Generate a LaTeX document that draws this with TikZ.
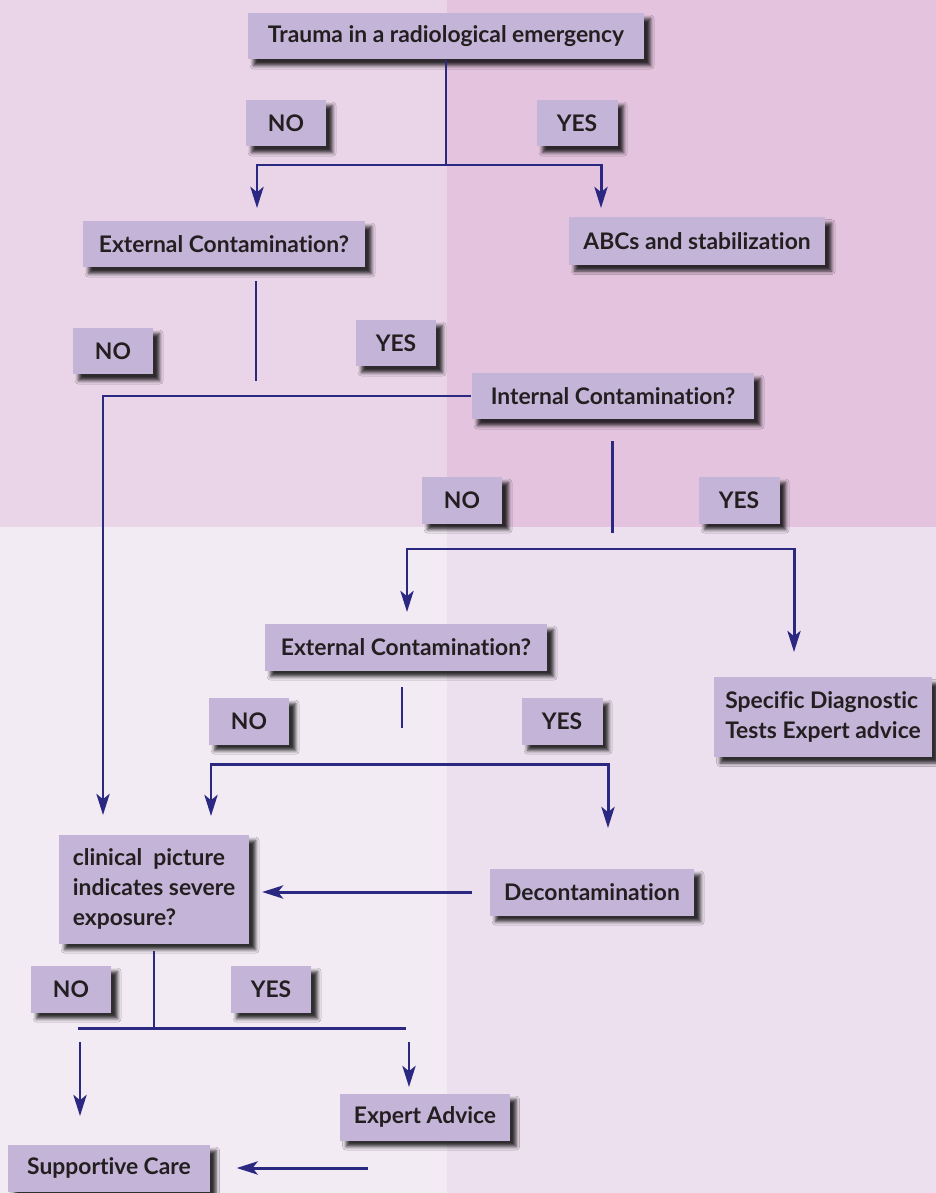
\documentclass[tikz,border=0pt]{standalone}
\usepackage{fontspec}
\setmainfont[Ligatures=NoCommon]{Lato}
\usetikzlibrary{arrows.meta,shadows.blur}

\definecolor{bgtl}{RGB}{234,213,232}
\definecolor{bgtr}{RGB}{227,195,221}
\definecolor{bgbl}{RGB}{243,235,244}
\definecolor{bgbr}{RGB}{236,223,238}
\definecolor{boxfill}{RGB}{196,181,216}
\definecolor{navy}{RGB}{42,40,128}
\definecolor{ink}{RGB}{35,31,32}

\tikzset{
	box/.style={fill=boxfill, text=ink, inner sep=0pt,
		minimum height=0.94cm,
		font=\bfseries\fontsize{13}{17}\selectfont,
		blur shadow={shadow xshift=3.5pt, shadow yshift=-3.5pt,
			shadow blur radius=2pt, shadow opacity=80}},
	answer/.style={box, minimum width=1.62cm},
	link/.style={line width=1.7pt, draw=navy},
	arr/.style={link, -{Stealth[length=12pt, width=7.5pt, inset=3pt]}},
}

\begin{document}
\begin{tikzpicture}[x=0.02cm, y=-0.02cm]
		% background
		\useasboundingbox (0,0) rectangle (936,1193);
		\fill[bgtl] (0,0) rectangle (447,527);
		\fill[bgtr] (447,0) rectangle (936,527);
		\fill[bgbl] (0,527) rectangle (447,1193);
		\fill[bgbr] (447,527) rectangle (936,1193);
		
		% boxes
		\node[box, minimum width=7.94cm] (trauma) at (446,36) {Trauma in a radiological emergency};
		\node[answer] (no1) at (286,123) {NO};
		\node[answer] (yes1) at (577,123) {YES};
		\node[box, minimum width=5.66cm] (ext1) at (224,244) {External Contamination?};
		\node[box, minimum width=5.14cm, minimum height=0.96cm] (abc) at (697,241) {ABCs and stabilization};
		\node[answer] (no2) at (113,351) {NO};
		\node[answer] (yes2) at (396,343) {YES};
		\node[box, minimum width=5.66cm] (int) at (613,396) {Internal Contamination?};
		\node[answer] (no3) at (462,500) {NO};
		\node[answer] (yes3) at (739,500) {YES};
		\node[box, minimum width=5.66cm] (ext2) at (406,647) {External Contamination?};
		\node[box, minimum width=4.36cm, minimum height=1.6cm, align=left] (spec) at (823,717)
		{Specific Diagnostic\\Tests Expert advice};
		\node[answer] (no4) at (249,721) {NO};
		\node[answer] (yes4) at (562,721) {YES};
		\node[box, minimum width=3.82cm, minimum height=2.18cm, align=left] (clin) at (154,889)
		{clinical\ \ picture\\indicates severe\\exposure?};
		\node[box, minimum width=4.1cm] (decon) at (592,892) {Decontamination};
		\node[answer] (no5) at (71,989) {NO};
		\node[answer] (yes5) at (271,989) {YES};
		\node[box, minimum width=3.4cm] (expert) at (425,1117) {Expert Advice};
		\node[box, minimum width=4.04cm] (supp) at (109,1168) {Supportive Care};
		
		% junctions and loose ends
		\coordinate (j1) at (trauma.south |- 0,165);
		\coordinate (ext1in) at (257,208);
		\coordinate (abcin) at (601,208);
		\coordinate (ext1a) at (256,281);
		\coordinate (ext1b) at (256,381);
		\coordinate (clinin1) at (103,815);
		\coordinate (inta) at (612,441);
		\coordinate (intb) at (612,533);
		\coordinate (j2) at (612,549);
		\coordinate (ext2in) at (407,612);
		\coordinate (specin) at (794,652);
		\coordinate (ext2a) at (402,687);
		\coordinate (ext2b) at (402,728);
		\coordinate (j3) at (402,764);
		\coordinate (clinin2) at (211,816);
		\coordinate (deconin) at (608,828);
		\coordinate (j4) at (clin.south |- 0,1028);
		\coordinate (hl) at (78,1028);
		\coordinate (hr) at (406,1028);
		\coordinate (suppa) at (80,1042);
		\coordinate (suppb) at (80,1116);
		\coordinate (expa) at (409,1042);
		\coordinate (expb) at (409,1087);
		\coordinate (backa) at (368,1168);
		
		% connectors
		\draw[link] (trauma.south) -- (j1);
		\draw[arr] (j1) -| (ext1in);
		\draw[arr] (j1) -| (abcin);
		\draw[link] (ext1a) -- (ext1b);
		\draw[arr] (int.west) -| (clinin1);
		\draw[link] (inta) -- (intb);
		\draw[arr] (j2) -| (ext2in);
		\draw[arr] (j2) -| (specin);
		\draw[link] (ext2a) -- (ext2b);
		\draw[arr] (j3) -| (clinin2);
		\draw[arr] (j3) -| (deconin);
		\draw[arr, shorten <=10pt, shorten >=7pt] (decon.west) -- (decon.west -| clin.east);
		\draw[link] ([yshift=-4pt]clin.south) -- (j4);
		\draw[link] (hl) -- (hr);
		\draw[arr] (suppa) -- (suppb);
		\draw[arr] (expa) -- (expb);
		\draw[arr, shorten >=15pt] (backa) -- (supp.east);
		
	\end{tikzpicture}
\end{document}
